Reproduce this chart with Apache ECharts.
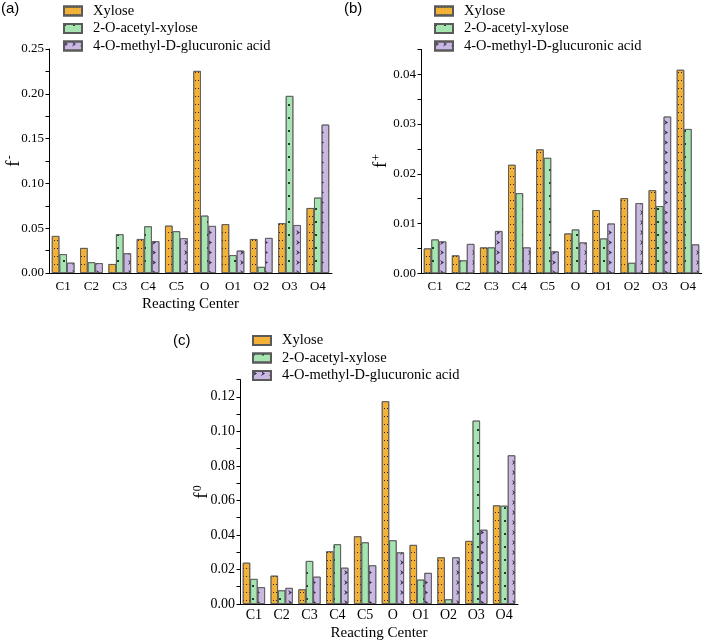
<!DOCTYPE html>
<html>
<head>
<meta charset="utf-8">
<script src="https://cdn.jsdelivr.net/npm/echarts@6/dist/echarts.min.js"></script>
<style>html,body{margin:0;padding:0;background:#fff;}#c{width:702px;height:643px;}</style>
</head>
<body>
<div id="c"></div>
<script>
const categories = ['C1','C2','C3','C4','C5','O','O1','O2','O3','O4'];
const seriesNames = ['Xylose','2-O-acetyl-xylose','4-O-methyl-D-glucuronic acid'];

// (a) f-
const fMinusXylose = [0.0413,0.0279,0.0100,0.0379,0.0528,0.2255,0.0545,0.0379,0.0556,0.0725];
const fMinusAcetyl = [0.0210,0.0120,0.0433,0.0521,0.0466,0.0640,0.0199,0.0068,0.1976,0.0841];
const fMinusGluc   = [0.0115,0.0110,0.0220,0.0355,0.0388,0.0525,0.0250,0.0391,0.0535,0.1656];
// (b) f+
const fPlusXylose = [0.0050,0.0036,0.0052,0.0218,0.0249,0.0080,0.0127,0.0151,0.0167,0.0409];
const fPlusAcetyl = [0.0068,0.0026,0.0052,0.0161,0.0232,0.0088,0.0070,0.0021,0.0135,0.0290];
const fPlusGluc   = [0.0064,0.0059,0.0085,0.0052,0.0044,0.0062,0.0100,0.0141,0.0315,0.0058];
// (c) f0
const fZeroXylose = [0.0239,0.0164,0.0085,0.0305,0.0392,0.1174,0.0342,0.0270,0.0365,0.0571];
const fZeroAcetyl = [0.0145,0.0079,0.0249,0.0346,0.0357,0.0369,0.0141,0.0027,0.1062,0.0569];
const fZeroGluc   = [0.0097,0.0093,0.0158,0.0210,0.0224,0.0299,0.0180,0.0270,0.0430,0.0861];

// y-axis ticks: [max, minor step, labelled step]
const yTicksA = [0.25, 0.025, 0.05];
const yTicksB = [0.045, 0.005, 0.01];
const yTicksC = [0.13, 0.01, 0.02];
const yNameSup = ['-', '+', '0'];

const serif = 'Liberation Serif, Times New Roman, serif';
const colors = ['#F2B23A','#A6E4B2','#C9B8E2'];
const decals = [
  {symbol:'rect', symbolSize:1, color:'rgba(30,20,0,0.9)', dashArrayX:[1,2], dashArrayY:[1,7]},
  {symbol:'rect', symbolSize:1, color:'rgba(20,40,20,0.9)', dashArrayX:[1.3,7], dashArrayY:[1.3,11]},
  {symbol:'path://M0,0L10,6L0,12L4,6Z', symbolSize:1, color:'rgba(40,30,60,0.95)', dashArrayX:[4,4], dashArrayY:[5,5]}
];

const grids = [
  {left:49, top:49, width:283, height:224},
  {left:421, top:49.4, width:284, height:223.9},
  {left:240, top:379.5, width:278, height:224.5}
];
const yTicks = [yTicksA, yTicksB, yTicksC];
const labelSize = [13, 13, 14];
const xMargins = [7, 7, 4];
const yNamePos = [[14, 161], [381, 161], [202, 492]];

function fmt(major){
  return function(v){
    const r = v/major;
    return Math.abs(r-Math.round(r))<1e-6 ? v.toFixed(2) : '';
  };
}

const xAxes = grids.map((g,i)=>({
  type:'category', gridIndex:i, data:categories,
  boundaryGap:true,
  name: i===1 ? '' : 'Reacting Center',
  nameLocation:'middle', nameGap: i===2 ? 22 : 24,
  nameTextStyle:{fontFamily:serif, fontSize:15, color:'#000'},
  axisLine:{lineStyle:{color:'#000', width:1}},
  axisTick:{alignWithLabel:true, length:4, lineStyle:{color:'#000'}},
  axisLabel:{fontFamily:serif, fontSize:labelSize[i], color:'#000', margin:xMargins[i], interval:0}
}));

const yAxes = grids.map((g,i)=>({
  type:'value', gridIndex:i, min:0, max:yTicks[i][0], interval:yTicks[i][1],
  splitLine:{show:false},
  axisLine:{show:true, lineStyle:{color:'#000', width:1}},
  axisTick:{show:true, length:3.5, lineStyle:{color:'#000'}},
  axisLabel:{fontFamily:serif, fontSize:labelSize[i], color:'#000', margin:5, formatter:fmt(yTicks[i][2]), showMaxLabel:true}
}));

const dataSets = [
  [fMinusXylose, fMinusAcetyl, fMinusGluc],
  [fPlusXylose, fPlusAcetyl, fPlusGluc],
  [fZeroXylose, fZeroAcetyl, fZeroGluc]
];

const series = [];
dataSets.forEach((set,i)=>{
  set.forEach((d,k)=>{
    series.push({
      type:'bar', name:seriesNames[k], xAxisIndex:i, yAxisIndex:i, data:d,
      barGap:'0%', barCategoryGap:'20%',
      itemStyle:{color:colors[k], borderColor:'#5a5a5a', borderWidth:0.8, decal:decals[k]},
      emphasis:{disabled:true}
    });
  });
});

const legendPos = [
  {left:58, top:-1.5},
  {left:429, top:-1.5},
  {left:247, top:328}
];
const legends = legendPos.map(p=>({
  orient:'vertical', left:p.left, top:p.top, data:seriesNames,
  itemWidth:18, itemHeight:9, itemGap:2.5, icon:'rect',
  selectedMode:false,
  textStyle:{fontFamily:serif, fontSize:14.5, color:'#000', lineHeight:15, padding:[0,0,0,6]}
}));

const yNameGraphics = yNamePos.map((p,i)=>({
  type:'text', x:p[0], y:p[1], rotation:Math.PI/2,
  style:{
    text:'{f|f}{s|'+yNameSup[i]+'}',
    align:'center', verticalAlign:'middle',
    rich:{
      f:{fontFamily:serif, fontSize:19, fill:'#000', lineHeight:20, verticalAlign:'bottom'},
      s:{fontFamily:serif, fontSize:12, fill:'#000', lineHeight:20, verticalAlign:'top', padding:[0,0,6,1]}
    }
  }
}));

const chart = echarts.init(document.getElementById('c'), null, {renderer:'canvas'});
chart.setOption({
  backgroundColor:'#fff',
  animation:false,
  grid:grids,
  xAxis:xAxes,
  yAxis:yAxes,
  legend:legends,
  series:series,
  graphic:[
    {type:'text', left:1, top:1, style:{text:'(a)', font:'15px Liberation Sans, Arial, sans-serif', fill:'#000'}},
    {type:'text', left:344, top:1, style:{text:'(b)', font:'15px Liberation Sans, Arial, sans-serif', fill:'#000'}},
    {type:'text', left:173, top:333, style:{text:'(c)', font:'15px Liberation Sans, Arial, sans-serif', fill:'#000'}}
  ].concat(yNameGraphics)
});
</script>
</body>
</html>
